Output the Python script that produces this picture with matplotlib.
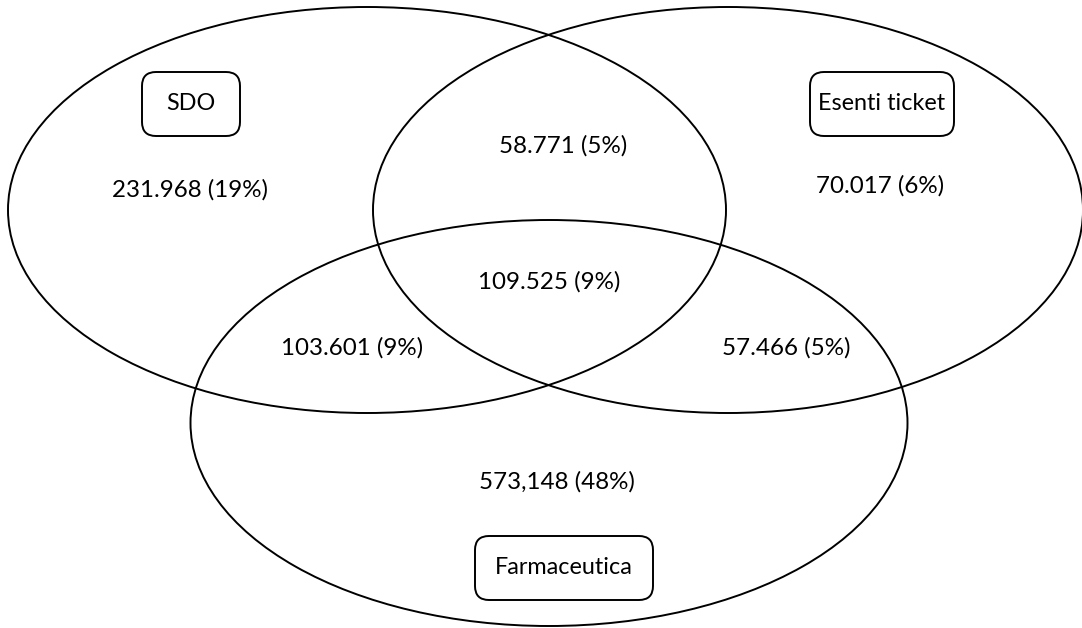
import matplotlib.pyplot as plt
from matplotlib.patches import Ellipse, FancyBboxPatch

plt.rcParams['font.family'] = ['Lato', 'DejaVu Sans']

# insiemi e regioni del diagramma
set_names = ['SDO', 'Esenti ticket', 'Farmaceutica']
region_labels = ['231.968 (19%)', '70.017 (6%)', '573,148 (48%)',
                 '58.771 (5%)', '103.601 (9%)', '57.466 (5%)',
                 '109.525 (9%)']

# geometria in pixel (origine in alto a sinistra)
ellipses = [(367, 210, 718, 406), (728, 210, 710, 406), (549, 423, 717, 406)]
boxes = [(142, 72, 98, 64), (810, 72, 144, 64), (475, 536, 178, 64)]
label_pos = [(190, 190), (880, 186), (557, 482),
             (563, 146), (352, 348), (786, 348),
             (549, 282)]

fig = plt.figure(figsize=(10.82, 6.28), dpi=100)
ax = fig.add_axes([0, 0, 1, 1])
ax.set_xlim(0, 1082)
ax.set_ylim(628, 0)
ax.axis('off')

for cx, cy, w, h in ellipses:
    ax.add_patch(Ellipse((cx, cy), w, h, fill=False, edgecolor='black', lw=1.4))

for (x, y, w, h), name in zip(boxes, set_names):
    ax.add_patch(FancyBboxPatch((x + 14, y + 14), w - 28, h - 28,
                                boxstyle='round,pad=14', fill=False,
                                edgecolor='black', lw=1.4))
    ax.text(x + w / 2, y + h / 2, name, ha='center', va='center', fontsize=16.8)

for (x, y), lab in zip(label_pos, region_labels):
    ax.text(x, y, lab, ha='center', va='center', fontsize=17.4)

fig.savefig('out.png', dpi=100)
